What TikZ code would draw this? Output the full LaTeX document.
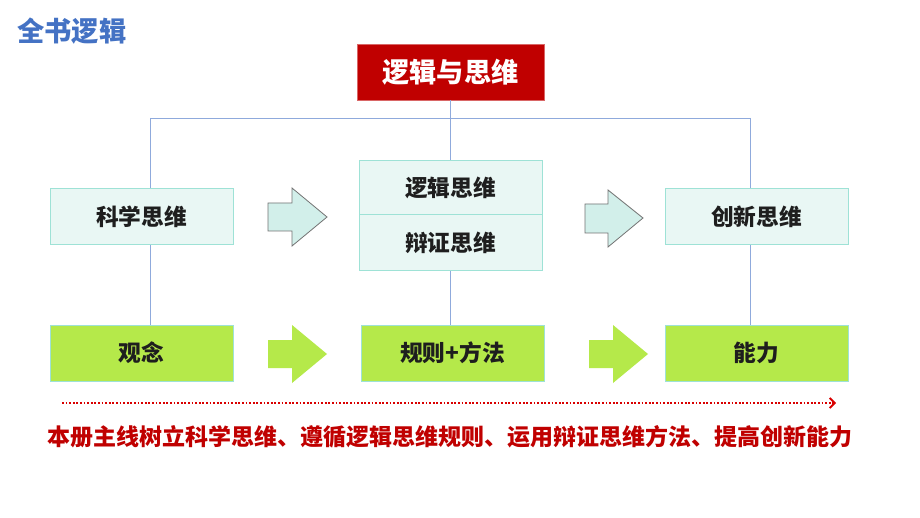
\documentclass[tikz,border=0pt]{standalone}
\usepackage{fontspec}
\setmainfont{Noto Sans CJK SC}
\usetikzlibrary{arrows.meta}
\definecolor{titleblue}{HTML}{4472C4}
\definecolor{darkred}{HTML}{C00000}
\definecolor{linkblue}{HTML}{8FAADC}
\definecolor{boxfill}{HTML}{E9F7F4}
\definecolor{boxline}{HTML}{9EE2D6}
\definecolor{arrowfill}{HTML}{D2EFEA}
\definecolor{limegreen}{HTML}{B5E94A}
\definecolor{txt}{HTML}{1E1E1E}
\begin{document}
\begin{tikzpicture}[x=1pt,y=-1pt,
  thinkbox/.style={draw=boxline,fill=boxfill,line width=1pt,minimum width=183pt,minimum height=56pt,inner sep=0pt,font=\fontsize{22.7}{22.7}\selectfont\bfseries,text=txt},
  greenbox/.style={draw=boxline,fill=limegreen,line width=1pt,minimum width=183pt,minimum height=56pt,inner sep=0pt,font=\fontsize{22.7}{22.7}\selectfont\bfseries,text=txt},
  link/.style={draw=linkblue,line width=0.9pt},
  lightarrow/.style={fill=arrowfill,draw=gray!90!black,line width=0.8pt},
  greenarrow/.style={fill=limegreen,draw=none}]
\useasboundingbox (0,0) rectangle (920,518);
\fill[white] (0,0) rectangle (920,518);
\node[anchor=west,text=titleblue,font=\fontsize{27.3}{27.3}\selectfont\bfseries,inner sep=0pt] (title) at (17,31) {全书逻辑};
\node[fill=darkred,draw=darkred!60,minimum width=187pt,minimum height=56pt,inner sep=0pt,text=white,font=\fontsize{27.2}{27.2}\selectfont\bfseries] (top) at (450.5,72) {逻辑与思维};
\node[thinkbox] (sci) at (141.5,217) {科学思维};
\node[thinkbox,minimum height=54pt] (logic) at (450.5,188) {逻辑思维};
\node[thinkbox,minimum height=56pt] (dial) at (450.5,243) {辩证思维};
\node[thinkbox] (inno) at (756.5,217) {创新思维};
\node[greenbox] (idea) at (141.5,353) {观念};
\node[greenbox] (rule) at (452.5,353) {规则+方法};
\node[greenbox] (abil) at (756.5,353) {能力};
\coordinate (busL) at (150,118);
\coordinate (busR) at (750,118);
\coordinate (busM) at (450,118);
\draw[link] (busL) -- (busR);
\draw[link] (top.south -| busM) -- (logic.north -| busM);
\draw[link] (busL) -- (sci.north -| busL);
\draw[link] (busR) -- (inno.north -| busR);
\draw[link] (sci.south -| busL) -- (idea.north -| busL);
\draw[link] (inno.south -| busR) -- (abil.north -| busR);
\draw[link] (dial.south -| busM) -- (rule.north -| busM);
% block arrows
\draw[lightarrow] (268,203) -- (292,203) -- (292,188) -- (327,217) -- (292,246) -- (292,231) -- (268,231) -- cycle;
\draw[lightarrow] (585,204) -- (608,204) -- (608,190) -- (643,218) -- (608,247) -- (608,233) -- (585,233) -- cycle;
\fill[greenarrow] (268,340) -- (292,340) -- (292,325) -- (327,354) -- (292,383) -- (292,368) -- (268,368) -- cycle;
\fill[greenarrow] (589,340) -- (613,340) -- (613,325) -- (648,354) -- (613,383) -- (613,368) -- (589,368) -- cycle;
% dotted red arrow
\coordinate (dotA) at (62,403);
\coordinate (dotB) at (836,403);
\draw[red!85!black,line width=2.6pt,dash pattern=on 1.8pt off 1.8pt,-{Straight Barb[length=5pt,width=10pt,line width=1.8pt]}] (dotA) -- (dotB);
\node[text=darkred,font=\fontsize{23}{23}\selectfont\bfseries,inner sep=0pt] (summary) at (450,437) {本册主线树立科学思维、遵循逻辑思维规则、运用辩证思维方法、提高创新能力};
\end{tikzpicture}
\end{document}
